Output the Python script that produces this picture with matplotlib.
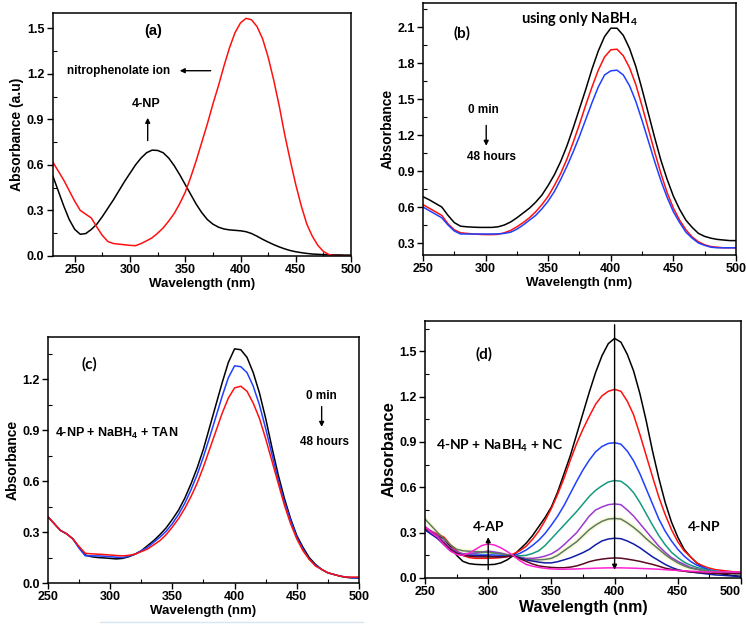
import matplotlib
matplotlib.use("Agg")
import matplotlib.pyplot as plt
from matplotlib.ticker import MultipleLocator, FormatStrFormatter
from matplotlib.lines import Line2D

# ---- panel (a) : 4-NP vs nitrophenolate ion (read every 5 nm)
wl_a = list(range(230, 505, 5))
abs_a_black = [0.53, 0.43, 0.33, 0.24, 0.175, 0.143, 0.148, 0.175, 0.21, 0.26, 0.315, 0.37,
               0.43, 0.49, 0.545, 0.60, 0.645, 0.68, 0.697, 0.695, 0.68, 0.645, 0.595, 0.535,
               0.47, 0.405, 0.34, 0.285, 0.24, 0.21, 0.19, 0.178, 0.172, 0.169, 0.166, 0.16,
               0.148, 0.13, 0.11, 0.092, 0.075, 0.06, 0.047, 0.036, 0.028, 0.022, 0.017,
               0.013, 0.011, 0.009, 0.008, 0.007, 0.007, 0.006, 0.006]
abs_a_red = [0.62, 0.56, 0.50, 0.43, 0.36, 0.30, 0.275, 0.25, 0.19, 0.135, 0.095, 0.082, 0.078,
             0.074, 0.07, 0.068, 0.082, 0.10, 0.12, 0.15, 0.185, 0.23, 0.28, 0.345, 0.42, 0.52,
             0.63, 0.75, 0.87, 1.00, 1.12, 1.25, 1.37, 1.47, 1.535, 1.565, 1.555, 1.51, 1.43,
             1.31, 1.16, 0.99, 0.80, 0.63, 0.47, 0.33, 0.21, 0.13, 0.07, 0.03, 0.01, 0.002,
             0.0, 0.0, 0.0]

# ---- panel (b) : only NaBH4
wl_b = list(range(250, 505, 5))
abs_b_black = [0.686, 0.66, 0.63, 0.60, 0.53, 0.47, 0.44, 0.435, 0.432, 0.43, 0.43, 0.43, 0.435,
               0.45, 0.475, 0.51, 0.55, 0.59, 0.64, 0.70, 0.78, 0.87, 0.98, 1.11, 1.26, 1.42,
               1.58, 1.75, 1.90, 2.02, 2.09, 2.09, 2.03, 1.92, 1.77, 1.58, 1.38, 1.18, 0.99,
               0.83, 0.69, 0.58, 0.49, 0.43, 0.38, 0.355, 0.34, 0.33, 0.325, 0.32, 0.32]
abs_b_red = [0.62, 0.59, 0.56, 0.53, 0.46, 0.41, 0.385, 0.38, 0.375, 0.372, 0.37, 0.37, 0.372,
             0.385, 0.405, 0.435, 0.47, 0.51, 0.56, 0.62, 0.69, 0.78, 0.88, 1.00, 1.14, 1.29,
             1.45, 1.60, 1.74, 1.85, 1.91, 1.915, 1.86, 1.76, 1.62, 1.44, 1.25, 1.06, 0.88,
             0.72, 0.59, 0.49, 0.41, 0.35, 0.31, 0.285, 0.27, 0.265, 0.26, 0.26, 0.26]
abs_b_blue = [0.60, 0.57, 0.54, 0.51, 0.45, 0.40, 0.375, 0.375, 0.375, 0.375, 0.375, 0.375,
              0.376, 0.38, 0.39, 0.415, 0.45, 0.49, 0.53, 0.585, 0.65, 0.73, 0.83, 0.94, 1.06,
              1.19, 1.33, 1.47, 1.60, 1.70, 1.735, 1.74, 1.70, 1.61, 1.48, 1.32, 1.15, 0.98,
              0.82, 0.68, 0.56, 0.47, 0.39, 0.34, 0.30, 0.28, 0.265, 0.26, 0.26, 0.26, 0.26]

# ---- panel (c) : 4-NP + NaBH4 + TAN
wl_c = list(range(250, 505, 5))
abs_c_black = [0.39, 0.35, 0.31, 0.29, 0.26, 0.21, 0.165, 0.155, 0.15, 0.148, 0.145, 0.142,
               0.145, 0.155, 0.17, 0.19, 0.22, 0.25, 0.285, 0.325, 0.375, 0.43, 0.50, 0.585,
               0.68, 0.79, 0.92, 1.05, 1.18, 1.30, 1.38, 1.375, 1.33, 1.24, 1.12, 0.97, 0.80,
               0.64, 0.50, 0.38, 0.28, 0.21, 0.15, 0.11, 0.08, 0.06, 0.05, 0.04, 0.033, 0.03,
               0.03]
abs_c_blue = [0.39, 0.35, 0.31, 0.29, 0.26, 0.205, 0.16, 0.16, 0.16, 0.158, 0.155, 0.152, 0.15,
              0.158, 0.17, 0.19, 0.21, 0.24, 0.27, 0.305, 0.35, 0.405, 0.47, 0.55, 0.64, 0.745,
              0.86, 0.98, 1.10, 1.21, 1.28, 1.275, 1.24, 1.16, 1.05, 0.91, 0.76, 0.61, 0.48,
              0.37, 0.27, 0.20, 0.14, 0.105, 0.08, 0.06, 0.05, 0.04, 0.035, 0.03, 0.03]
abs_c_red = [0.39, 0.35, 0.31, 0.29, 0.26, 0.215, 0.175, 0.172, 0.17, 0.168, 0.165, 0.162, 0.16,
             0.163, 0.17, 0.185, 0.20, 0.225, 0.25, 0.285, 0.33, 0.38, 0.44, 0.51, 0.59, 0.685,
             0.79, 0.895, 1.00, 1.09, 1.15, 1.16, 1.13, 1.06, 0.97, 0.85, 0.72, 0.59, 0.46,
             0.35, 0.26, 0.19, 0.14, 0.10, 0.08, 0.06, 0.05, 0.04, 0.035, 0.035, 0.035]

# ---- panel (d) : 4-NP + NaBH4 + NC, time series
wl_d = list(range(250, 505, 5))
abs_d_black = [0.33, 0.30, 0.28, 0.26, 0.21, 0.15, 0.11, 0.095, 0.09, 0.088, 0.088, 0.09, 0.10,
               0.12, 0.15, 0.19, 0.23, 0.28, 0.34, 0.40, 0.47, 0.57, 0.69, 0.81, 0.95, 1.09,
               1.23, 1.36, 1.47, 1.55, 1.585, 1.56, 1.48, 1.37, 1.22, 1.04, 0.84, 0.66, 0.50,
               0.37, 0.27, 0.19, 0.14, 0.10, 0.07, 0.05, 0.035, 0.027, 0.02, 0.015, 0.01]
abs_d_red = [0.33, 0.31, 0.29, 0.27, 0.22, 0.18, 0.15, 0.135, 0.13, 0.13, 0.13, 0.132, 0.135,
             0.14, 0.16, 0.18, 0.21, 0.255, 0.31, 0.38, 0.46, 0.555, 0.66, 0.78, 0.89, 0.985,
             1.07, 1.15, 1.205, 1.235, 1.248, 1.235, 1.17, 1.08, 0.95, 0.81, 0.67, 0.535, 0.42,
             0.32, 0.24, 0.18, 0.14, 0.10, 0.08, 0.065, 0.055, 0.05, 0.045, 0.04, 0.04]
abs_d_blue = [0.32, 0.29, 0.27, 0.23, 0.19, 0.165, 0.15, 0.15, 0.15, 0.152, 0.153, 0.152, 0.15,
              0.148, 0.147, 0.163, 0.185, 0.215, 0.25, 0.295, 0.35, 0.41, 0.48, 0.56, 0.64,
              0.715, 0.78, 0.835, 0.87, 0.89, 0.895, 0.885, 0.84, 0.775, 0.69, 0.59, 0.49, 0.39,
              0.31, 0.245, 0.19, 0.145, 0.11, 0.085, 0.07, 0.055, 0.045, 0.04, 0.035, 0.03, 0.03]
abs_d_teal = [0.33, 0.30, 0.27, 0.23, 0.19, 0.17, 0.16, 0.162, 0.165, 0.168, 0.17, 0.167, 0.16,
              0.152, 0.147, 0.147, 0.15, 0.162, 0.18, 0.215, 0.26, 0.305, 0.35, 0.395, 0.44,
              0.49, 0.54, 0.58, 0.61, 0.635, 0.645, 0.64, 0.61, 0.565, 0.50, 0.425, 0.35, 0.28,
              0.22, 0.17, 0.135, 0.105, 0.085, 0.07, 0.06, 0.05, 0.045, 0.04, 0.035, 0.03, 0.03]
abs_d_purple = [0.34, 0.31, 0.28, 0.24, 0.20, 0.175, 0.16, 0.162, 0.165, 0.172, 0.178, 0.172,
                0.165, 0.155, 0.147, 0.138, 0.13, 0.13, 0.135, 0.145, 0.16, 0.185, 0.22, 0.26,
                0.30, 0.355, 0.41, 0.45, 0.47, 0.485, 0.49, 0.485, 0.45, 0.41, 0.36, 0.31, 0.26,
                0.21, 0.17, 0.135, 0.11, 0.09, 0.07, 0.06, 0.05, 0.045, 0.04, 0.038, 0.035, 0.03,
                0.03]
abs_d_olive = [0.39, 0.345, 0.30, 0.26, 0.22, 0.19, 0.18, 0.177, 0.175, 0.172, 0.17, 0.165,
               0.16, 0.153, 0.147, 0.135, 0.125, 0.12, 0.12, 0.123, 0.13, 0.15, 0.18, 0.21,
               0.24, 0.28, 0.32, 0.35, 0.375, 0.39, 0.394, 0.39, 0.365, 0.335, 0.30, 0.26,
               0.225, 0.19, 0.155, 0.125, 0.10, 0.08, 0.065, 0.057, 0.05, 0.045, 0.04, 0.038,
               0.035, 0.03, 0.03]
abs_d_navy = [0.32, 0.29, 0.26, 0.22, 0.18, 0.16, 0.15, 0.15, 0.15, 0.148, 0.145, 0.142, 0.14,
              0.143, 0.147, 0.133, 0.12, 0.112, 0.105, 0.10, 0.10, 0.108, 0.12, 0.133, 0.15,
              0.168, 0.19, 0.22, 0.245, 0.258, 0.263, 0.26, 0.245, 0.225, 0.20, 0.17, 0.14,
              0.115, 0.09, 0.07, 0.055, 0.046, 0.04, 0.035, 0.03, 0.025, 0.02, 0.018, 0.015,
              0.012, 0.01]
abs_d_brown = [0.33, 0.30, 0.27, 0.23, 0.19, 0.165, 0.15, 0.145, 0.14, 0.14, 0.14, 0.14, 0.14,
               0.143, 0.147, 0.128, 0.11, 0.093, 0.08, 0.074, 0.07, 0.068, 0.068, 0.072, 0.08,
               0.093, 0.108, 0.118, 0.125, 0.13, 0.133, 0.131, 0.125, 0.118, 0.11, 0.10, 0.09,
               0.078, 0.065, 0.057, 0.05, 0.045, 0.04, 0.037, 0.035, 0.032, 0.03, 0.03, 0.03,
               0.03, 0.03]
abs_d_magenta = [0.34, 0.30, 0.27, 0.22, 0.18, 0.155, 0.15, 0.165, 0.19, 0.215, 0.225, 0.218,
                 0.20, 0.175, 0.147, 0.115, 0.09, 0.078, 0.07, 0.064, 0.06, 0.058, 0.058, 0.059,
                 0.06, 0.062, 0.063, 0.065, 0.066, 0.067, 0.067, 0.067, 0.066, 0.065, 0.063,
                 0.062, 0.06, 0.058, 0.055, 0.052, 0.05, 0.048, 0.045, 0.043, 0.04, 0.04, 0.04,
                 0.04, 0.04, 0.04, 0.04]

series_d = [abs_d_black, abs_d_red, abs_d_blue, abs_d_teal, abs_d_purple, abs_d_olive,
            abs_d_navy, abs_d_brown, abs_d_magenta]
colors_d = ["#000000", "#ff1010", "#2040ff", "#159a80", "#9a3ad0", "#5e7b60", "#101ca8",
            "#5a0a20", "#ff20d0"]

TICKFONT = "Liberation Sans"
NOTEFONT = ["Lato", "DejaVu Sans"]


def style_axes(ax, xlim, ylim, ystep, labsize=9.5):
    ax.set_xlim(*xlim)
    ax.set_ylim(*ylim)
    ax.xaxis.set_major_locator(MultipleLocator(50))
    ax.xaxis.set_minor_locator(MultipleLocator(25))
    ax.yaxis.set_major_locator(MultipleLocator(ystep))
    ax.yaxis.set_minor_locator(MultipleLocator(ystep / 2))
    ax.yaxis.set_major_formatter(FormatStrFormatter("%.1f"))
    ax.tick_params(which="major", direction="out", length=4, width=1, pad=2)
    ax.tick_params(which="minor", direction="in", length=3, width=0.8)
    for lab in ax.get_xticklabels() + ax.get_yticklabels():
        lab.set_fontfamily(TICKFONT)
        lab.set_fontweight("bold")
        lab.set_fontsize(9)
    for sp in ax.spines.values():
        sp.set_linewidth(1.1)
    ax.set_xlabel("Wavelength (nm)", fontsize=labsize, fontweight="bold",
                  family=TICKFONT, labelpad=1)


def arrow(ax, x0, y0, x1, y1):
    ax.annotate("", xy=(x1, y1), xytext=(x0, y0),
                arrowprops=dict(arrowstyle="-|>", color="black", lw=1.0,
                                mutation_scale=7, shrinkA=0, shrinkB=0))


fig = plt.figure(figsize=(7.46, 6.25), dpi=100)

# (a)
ax = fig.add_axes([0.0706, 0.5904, 0.3999, 0.3888])
ax.plot(wl_a, abs_a_black, color="black", lw=1.1)
ax.plot(wl_a, abs_a_red, color="#ff1010", lw=1.1)
style_axes(ax, (230, 500), (0, 1.6), 0.3)
ax.set_ylabel("Absorbance (a.u)", fontsize=10, fontweight="bold", family=TICKFONT, labelpad=2)
ax.text(321, 1.48, "(a)", fontsize=10.5, fontweight="bold", family=TICKFONT, ha="center", va="center")
ax.text(290, 1.22, "nitrophenolate ion", fontsize=8.5, fontweight="bold", family=TICKFONT,
        ha="center", va="center")
arrow(ax, 373, 1.22, 345, 1.22)
ax.text(315, 1.0, "4-NP", fontsize=9, fontweight="bold", family=TICKFONT, ha="center", va="center")
arrow(ax, 316, 0.76, 316, 0.91)

# (b)
ax = fig.add_axes([0.567, 0.592, 0.4196, 0.4032])
ax.plot(wl_b, abs_b_black, color="black", lw=1.1)
ax.plot(wl_b, abs_b_red, color="#ff1010", lw=1.1)
ax.plot(wl_b, abs_b_blue, color="#2040ff", lw=1.1)
style_axes(ax, (250, 500), (0.2, 2.3), 0.3)
ax.set_ylabel("Absorbance", fontsize=10, fontweight="bold", family=TICKFONT, labelpad=2)
ax.text(281, 2.045, "(b)", fontsize=11, fontweight="bold", family=NOTEFONT, ha="center", va="center")
ax.text(375, 2.17, r"using only NaBH$_\mathregular{4}$", fontsize=10.5, fontweight="bold",
        family=NOTEFONT, ha="center", va="center")
ax.text(298, 1.41, "0 min", fontsize=8.5, fontweight="bold", family=TICKFONT, ha="center", va="center")
arrow(ax, 300.5, 1.28, 300.5, 1.11)
ax.text(305, 1.02, "48 hours", fontsize=8.5, fontweight="bold", family=TICKFONT, ha="center", va="center")

# (c)
ax = fig.add_axes([0.0643, 0.0672, 0.4169, 0.3936])
ax.plot(wl_c, abs_c_black, color="black", lw=1.1)
ax.plot(wl_c, abs_c_blue, color="#2040ff", lw=1.1)
ax.plot(wl_c, abs_c_red, color="#ff1010", lw=1.1)
style_axes(ax, (250, 500), (0, 1.45), 0.3)
ax.set_ylabel("Absorbance", fontsize=10, fontweight="bold", family=TICKFONT, labelpad=2)
ax.text(283.5, 1.29, "(c)", fontsize=11, fontweight="bold", family=NOTEFONT, ha="center", va="center")
ax.text(255.5, 0.88, r"4-NP + NaBH$_\mathregular{4}$ + TAN", fontsize=9, fontweight="bold",
        family=TICKFONT, ha="left", va="center")
ax.text(470, 1.10, "0 min", fontsize=8.5, fontweight="bold", family=TICKFONT, ha="center", va="center")
arrow(ax, 470, 1.04, 470, 0.92)
ax.text(472.5, 0.83, "48 hours", fontsize=8.5, fontweight="bold", family=TICKFONT, ha="center", va="center")

# (d)
ax = fig.add_axes([0.5697, 0.0752, 0.4236, 0.4112])
ax.plot(wl_d, abs_d_olive, color="#f6f4b8", lw=3.5, alpha=0.5)
for vals, col in zip(series_d, colors_d):
    ax.plot(wl_d, vals, color=col, lw=1.1)
style_axes(ax, (250, 500), (0, 1.7), 0.3, labsize=11.5)
ax.set_xticks([250, 300, 350, 400, 450, 500])
for lab in ax.get_xticklabels():
    lab.set_fontfamily(TICKFONT)
    lab.set_fontweight("bold")
    lab.set_fontsize(9)
ax.get_xticklabels()[-1].set_ha("right")
ax.set_ylabel("Absorbance", fontsize=12, fontweight="bold", family=TICKFONT, labelpad=2)
ax.text(297, 1.478, "(d)", fontsize=11, fontweight="bold", family=NOTEFONT, ha="center", va="center")
ax.text(259, 0.876, r"4-NP + NaBH$_\mathregular{4}$ + NC", fontsize=10, fontweight="bold",
        family=NOTEFONT, ha="left", va="center")
ax.text(300, 0.34, "4-AP", fontsize=10, fontweight="bold", family=NOTEFONT, ha="center", va="center")
ax.text(471, 0.34, "4-NP", fontsize=10, fontweight="bold", family=NOTEFONT, ha="center", va="center")
arrow(ax, 400, 1.675, 400, 0.055)
arrow(ax, 300, 0.055, 300, 0.27)

# faint line under panel (c)
fig.add_artist(Line2D([100 / 746, 363 / 746], [1 - 622 / 625, 1 - 622 / 625],
                      transform=fig.transFigure, color="#d6e6f2", lw=1))

fig.savefig("out.png", dpi=100)
